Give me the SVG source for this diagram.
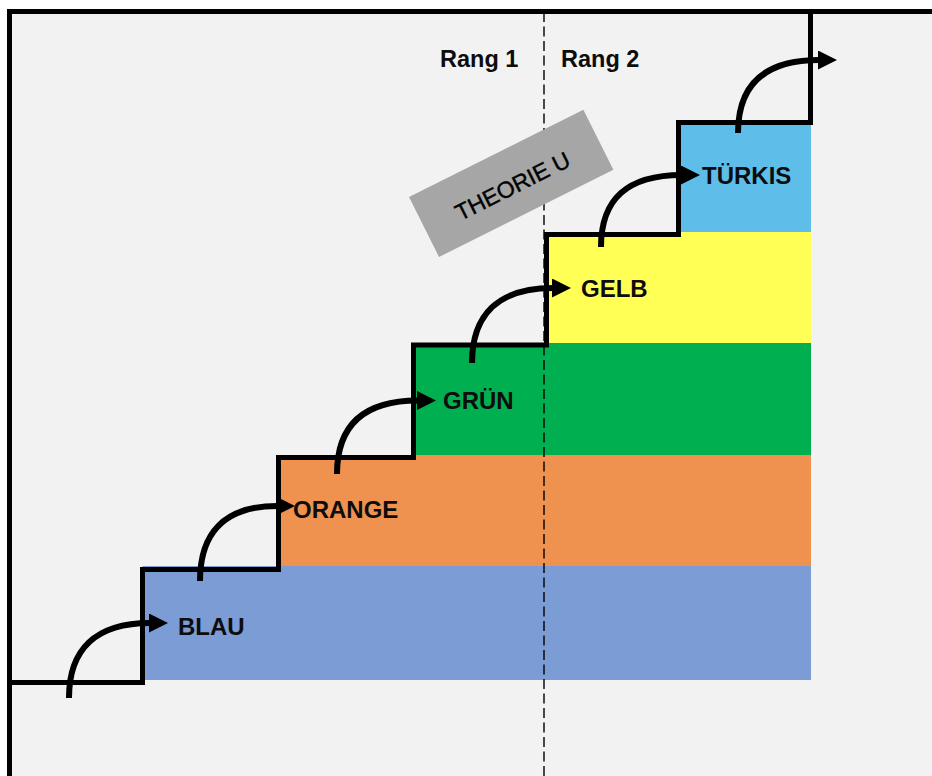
<svg xmlns="http://www.w3.org/2000/svg" width="932" height="776" viewBox="0 0 932 776">
  <style>
    .band { stroke: none; }
    .label { font-family: "Liberation Sans", Arial, sans-serif; font-weight: bold; font-size: 24px; fill: #0d0d0d; }
    .rang { font-family: "Liberation Sans", Arial, sans-serif; font-weight: bold; font-size: 23.5px; fill: #0d0d0d; }
    .frame { fill: none; stroke: #000; stroke-width: 5; stroke-linejoin: miter; stroke-linecap: square; }
    .step-arrow { fill: none; stroke: #000; stroke-width: 6; stroke-linecap: butt; marker-end: url(#head); }
  </style>
  <defs>
    <marker id="head" markerUnits="userSpaceOnUse" markerWidth="20" markerHeight="20" refX="1" refY="9.5" orient="auto">
      <path d="M0,0 L19,9.5 L0,19 Z" fill="#000"/>
    </marker>
  </defs>

  <!-- page background -->
  <rect x="0" y="0" width="932" height="776" fill="#ffffff"/>
  <rect x="8" y="10" width="924" height="766" fill="#f2f2f2"/>

  <!-- colour levels -->
  <g id="step-blau">
    <rect class="band" x="142.5" y="566" width="668.5" height="114" fill="#7c9cd5"/>
  </g>
  <g id="step-orange">
    <rect class="band" x="278.5" y="455" width="532.5" height="111" fill="#ef924f"/>
  </g>
  <g id="step-gruen">
    <rect class="band" x="413.5" y="343" width="397.5" height="112" fill="#00b050"/>
  </g>
  <g id="step-gelb">
    <rect class="band" x="546.5" y="232" width="264.5" height="111" fill="#ffff55"/>
  </g>
  <g id="step-tuerkis">
    <rect class="band" x="678.5" y="122" width="132.5" height="110" fill="#5ebde9"/>
  </g>

  <!-- rank divider -->
  <line x1="544" y1="12" x2="544" y2="776" stroke="#000" stroke-width="1.4" stroke-dasharray="10 4.5"/>

  <!-- Theorie U tag -->
  <g id="theorie-u" transform="translate(511.2 183.4) rotate(-26.6)">
    <rect x="-97.5" y="-33.5" width="195" height="67" fill="#a6a6a6"/>
    <text x="0" y="11" text-anchor="middle" font-family="'Liberation Sans', Arial, sans-serif" font-size="23px" fill="#000" stroke="#000" stroke-width="0.4">THEORIE U</text>
  </g>

  <!-- frame and staircase outline -->
  <g id="frame">
    <path class="frame" d="M9.5,776 V11.5 H934"/>
    <path class="frame" d="M9.5,682.5 H142.5 V569.5 H278.5 V457.5 H413.5 V345 H546.5 V234.5 H678.5 V122.5 H810.5 V11.5"/>
  </g>

  <!-- step-up arrows -->
  <g id="connectors">
    <path class="step-arrow" d="M69,698 C69,650 95,623 150,623"/>
    <path class="step-arrow" d="M200,581 C200,533 224,506 277,506"/>
    <path class="step-arrow" d="M337,474 C337,426 363,400.5 418,400.5"/>
    <path class="step-arrow" d="M472,363 C472,315 498,288 553,288"/>
    <path class="step-arrow" d="M601,247 C601,199 627,175 682,175"/>
    <path class="step-arrow" d="M738,133 C738,85 764,60 819,60"/>
  </g>

  <!-- labels -->
  <g id="labels">
    <text class="rang" x="440" y="67">Rang 1</text>
    <text class="rang" x="561" y="67">Rang 2</text>
    <text class="label" x="178" y="635">BLAU</text>
    <text class="label" x="293" y="518">ORANGE</text>
    <text class="label" x="443" y="408.5">GRÜN</text>
    <text class="label" x="581" y="297">GELB</text>
    <text class="label" x="702" y="184">TÜRKIS</text>
  </g>
</svg>
